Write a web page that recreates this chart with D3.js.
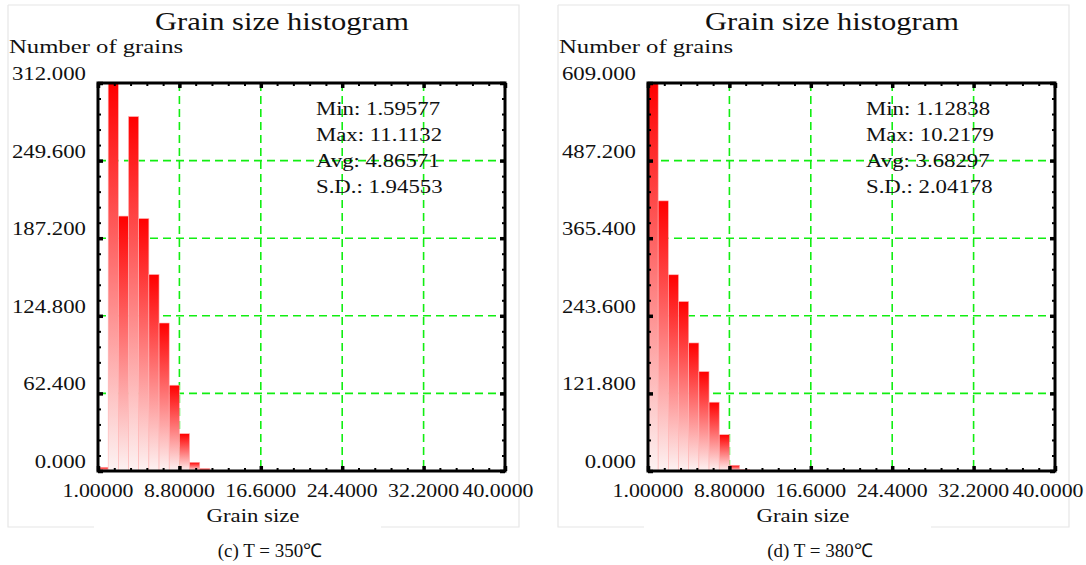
<!DOCTYPE html>
<html lang="en">
<head>
  <meta charset="UTF-8">
  <title>Grain size histogram</title>
  <script src="https://cdn.jsdelivr.net/npm/d3@7"></script>
  <style>
    body { margin: 0; background: #fff; }
    text { font-family: "Liberation Serif", "Times New Roman", serif; fill: #111; }
  </style>
</head>
<body>
<script>
  // data
  const binStart = 1;
  const binWidth = 0.975;
  const xTicks = [1, 8.8, 16.6, 24.4, 32.2, 40];
  const countsC = [3, 312, 205, 285, 203, 158, 119, 69, 30, 7, 2];
  const countsD = [609, 424, 308, 266, 201, 156, 108, 57, 9, 2];
  const yMaxC = 312;
  const yMaxD = 609;
  const statsC = ["Min: 1.59577", "Max: 11.1132", "Avg: 4.86571", "S.D.: 1.94553"];
  const statsD = ["Min: 1.12838", "Max: 10.2179", "Avg: 3.68297", "S.D.: 2.04178"];
  const captionC = "(c) T = 350\u2103";
  const captionD = "(d) T = 380\u2103";

  const W = 1086, H = 565;
  const sx = 1.2; // text in the picture is stretched sideways

  let svg = d3.select("body").append("svg").attr("width", W).attr("height", H);

  // gradient for the bars: red on top, fading to white
  let grad = svg.append("defs").append("linearGradient")
    .attr("id", "barGrad").attr("x1", 0).attr("y1", 0).attr("x2", 0).attr("y2", 1);
  grad.append("stop").attr("offset", "0%").attr("stop-color", "#ff0000");
  grad.append("stop").attr("offset", "100%").attr("stop-color", "#fdf3f3");

  function label(g, x, y, str, size, anchor, stretch) {
    g.append("text")
      .attr("transform", "translate(" + x + "," + y + ") scale(" + (stretch || sx) + ",1)")
      .attr("font-size", size + "px")
      .attr("text-anchor", anchor || "start")
      .text(str);
  }

  function panel(ox, counts, yMax, stats, caption) {
    let g = svg.append("g").attr("transform", "translate(" + ox + ",0)");
    let x0 = 98, x1 = 505, y0 = 83, y1 = 471;

    // faint box around the sub figure
    let box = g.append("g").attr("stroke", "#e6e6e6").attr("stroke-width", 1.2).attr("fill", "none");
    box.append("path").attr("d", "M8,5H519V527H381M94,527H8V5");

    let x = d3.scaleLinear().domain([1, 40]).range([x0, x1]);
    let y = d3.scaleLinear().domain([0, yMax]).range([y1, y0]);
    let yMajor = d3.range(0, 6).map(i => yMax * i / 5);
    let yMinor = d3.range(0, 26).map(i => yMax * i / 25);
    let xMinor = d3.range(0, 26).map(i => 1 + 39 * i / 25);

    // grid
    let grid = g.append("g").attr("stroke", "#11ee11").attr("stroke-width", 1.6)
      .attr("stroke-dasharray", "8,5");
    grid.selectAll("line.v").data(xTicks.slice(1, -1)).enter().append("line")
      .attr("x1", d => x(d)).attr("x2", d => x(d)).attr("y1", y0).attr("y2", y1);
    grid.selectAll("line.h").data(yMajor.slice(1, -1)).enter().append("line")
      .attr("y1", d => y(d)).attr("y2", d => y(d)).attr("x1", x0).attr("x2", x1);

    // bars
    g.selectAll("rect.bar").data(counts).enter().append("rect")
      .attr("class", "bar")
      .attr("x", (d, i) => x(binStart + i * binWidth))
      .attr("width", x(binStart + binWidth) - x(binStart))
      .attr("y", d => y(d))
      .attr("height", d => y1 - y(d))
      .attr("fill", "url(#barGrad)")
      .attr("stroke", "#ffb4b4").attr("stroke-width", 0.6);

    // ticks on all four sides, pointing inside
    function ticks(axis, tr, size, vals) {
      let a = g.append("g").attr("transform", tr)
        .call(axis.tickValues(vals).tickSize(size).tickFormat(""));
      a.select(".domain").remove();
      a.selectAll("line").attr("stroke", "#000");
      return a;
    }
    ticks(d3.axisBottom(x), "translate(0," + y1 + ")", -3, xMinor).selectAll("line").attr("stroke-width", 2);
    ticks(d3.axisBottom(x), "translate(0," + y1 + ")", -5, xTicks).selectAll("line").attr("stroke-width", 3.5);
    ticks(d3.axisTop(x), "translate(0," + y0 + ")", -3, xMinor).selectAll("line").attr("stroke-width", 2);
    ticks(d3.axisTop(x), "translate(0," + y0 + ")", -5, xTicks).selectAll("line").attr("stroke-width", 3.5);
    ticks(d3.axisLeft(y), "translate(" + x0 + ",0)", -3, yMinor).selectAll("line").attr("stroke-width", 2);
    ticks(d3.axisLeft(y), "translate(" + x0 + ",0)", -5, yMajor).selectAll("line").attr("stroke-width", 3.5);
    ticks(d3.axisRight(y), "translate(" + x1 + ",0)", -3, yMinor).selectAll("line").attr("stroke-width", 2);
    ticks(d3.axisRight(y), "translate(" + x1 + ",0)", -5, yMajor).selectAll("line").attr("stroke-width", 3.5);

    // frame
    g.append("rect").attr("x", x0).attr("y", y0).attr("width", x1 - x0).attr("height", y1 - y0)
      .attr("fill", "none").attr("stroke", "#000").attr("stroke-width", 3);

    // tick labels (the last one sits a little to the left, as in the picture)
    let fx = d3.format(".6r"), fy = d3.format(".3f");
    xTicks.forEach((v, i) => label(g, x(v) - (i == xTicks.length - 1 ? 7 : 0), 497, fx(v), 19, "middle", 1.15));
    yMajor.forEach(v => label(g, 86, y(v) - 3, fy(v), 19, "end"));

    // titles
    label(g, 282, 30, "Grain size histogram", 25, "middle", 1.22);
    label(g, 9, 53, "Number of grains", 19, "start", 1.3);
    label(g, 253, 522, "Grain size", 19, "middle");
    label(g, 270, 557, caption, 19, "middle", 1.0);

    // stats
    stats.forEach((s, i) => label(g, 316, 115 + i * 26, s, 19, "start"));
  }

  panel(0, countsC, yMaxC, statsC, captionC);
  panel(550, countsD, yMaxD, statsD, captionD);
</script>
</body>
</html>
